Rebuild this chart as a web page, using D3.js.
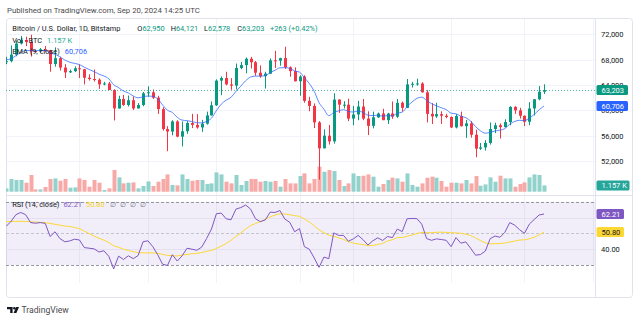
<!DOCTYPE html>
<html>
<head>
<meta charset="utf-8">
<script src="https://cdn.jsdelivr.net/npm/d3@7"></script>
<style>
  body { margin: 0; background: #fff; }
  svg { display: block; font-family: Roboto, "Liberation Sans", sans-serif; }
</style>
</head>
<body>
<div id="chart"></div>
<script>
// BTC/USD daily candles (Bitstamp), 2 Jun - 20 Sep 2024, ten days per row
var opens = [
  67750, 67770, 68800, 70560, 71100, 70790, 69350, 69310, 69650, 69500,
  67320, 68240, 66760, 66000, 66200, 66650, 66500, 65150, 64950, 64850,
  64100, 64250, 63200, 60300, 61800, 60850, 61600, 60300, 60850, 62700,
  62850, 62000, 60200, 57050, 56650, 58250, 55850, 56700, 58000, 57700,
  57300, 57900, 59200, 60800, 64700, 65100, 64100, 63900, 66700, 67150,
  68150, 67600, 65950, 65400, 65800, 67900, 67850, 68250, 66800, 66200,
  64600, 65350, 61500, 60700, 58100, 54000, 56000, 55100, 61700, 60880,
  60900, 58700, 59350, 60600, 58700, 57550, 58900, 59500, 58450, 59500,
  59000, 61200, 60400, 64100, 64200, 64250, 62850, 59450, 59050, 59400,
  59150, 58950, 57300, 59100, 57500, 57950, 56150, 53950, 54150, 54850,
  57050, 57650, 57350, 58150, 60550, 60000, 59150, 58200, 60300, 61750,
  62950
];
var highs = [
  68450, 70250, 71050, 71750, 71650, 71950, 69550, 69850, 70150, 69550,
  69950, 68450, 67300, 66450, 66950, 67250, 66550, 65700, 66450, 65050,
  64500, 64500, 63350, 62300, 62450, 62350, 62200, 61150, 62900, 63800,
  63300, 62300, 60500, 57500, 58450, 58450, 58250, 58300, 59450, 59400,
  58500, 59800, 61400, 64900, 65350, 66100, 65100, 67400, 67650, 68350,
  68450, 67800, 67100, 66100, 68200, 69400, 68300, 70050, 66950, 66800,
  65550, 65550, 62150, 61100, 58300, 57000, 57700, 62700, 61750, 61450,
  61850, 60700, 61500, 61800, 59850, 59800, 59650, 60250, 59600, 61400,
  61800, 61400, 64950, 64500, 65000, 64450, 63200, 61150, 61200, 59850,
  59450, 59050, 59400, 59800, 58500, 58300, 56950, 54850, 55300, 58100,
  58050, 57950, 58600, 60650, 60650, 60400, 59200, 61300, 61800, 63850,
  64121
];
var lows = [
  67300, 67600, 68550, 70400, 70150, 68500, 69200, 69150, 69250, 66100,
  66900, 66300, 65100, 65900, 66050, 65100, 64100, 64700, 64550, 63400,
  63950, 63250, 58400, 60250, 60700, 60600, 60050, 60300, 60650, 62150,
  61800, 59450, 56800, 53550, 56050, 55750, 54300, 56300, 57200, 57100,
  56600, 57750, 59200, 60700, 62400, 63950, 63250, 63300, 66500, 65850,
  66600, 65450, 65150, 63450, 65750, 66700, 67050, 66550, 65300, 64550,
  62300, 61200, 59850, 57200, 49050, 54000, 54600, 54750, 59600, 60300,
  58300, 57650, 58450, 58450, 56100, 57150, 58800, 58450, 57850, 58650,
  58800, 59800, 60350, 63600, 63900, 62800, 58100, 57850, 58800, 57850,
  58750, 57200, 57150, 57450, 55650, 55700, 52600, 53750, 53650, 54600,
  56400, 55550, 57300, 57650, 59450, 58700, 57500, 57650, 59200, 61600,
  62578
];
var closes = [
  67770, 68800, 70560, 71100, 70790, 69350, 69310, 69650, 69500, 67320,
  68240, 66760, 66000, 66200, 66650, 66500, 65150, 64950, 64850, 64100,
  64250, 63200, 60300, 61800, 60850, 61600, 60300, 60850, 62700, 62850,
  62000, 60200, 57050, 56650, 58250, 55850, 56700, 58000, 57700, 57300,
  57900, 59200, 60800, 64700, 65100, 64100, 63900, 66700, 67150, 68150,
  67600, 65950, 65400, 65800, 67900, 67850, 68250, 66800, 66200, 64600,
  65350, 61500, 60700, 58100, 54000, 56000, 55100, 61700, 60900, 60900,
  58700, 59350, 60600, 58700, 57550, 58900, 59500, 58450, 59500, 59000,
  61200, 60400, 64100, 64200, 64250, 62850, 59450, 59050, 59400, 59150,
  58950, 57300, 59100, 57500, 57950, 56150, 53950, 54150, 54850, 57050,
  57650, 57350, 58150, 60550, 60000, 59150, 58200, 60300, 61750, 62940,
  63203
];
// volume in BTC
var volumes = [
  610, 2330, 2150, 2150, 1650, 3070, 420, 420, 860, 2330,
  2440, 2020, 2330, 740, 790, 2440, 2150, 920, 2150, 1650,
  310, 610, 3990, 2630, 1530, 1650, 1710, 610, 1050, 1890,
  1050, 1840, 2330, 3180, 1230, 1160, 3180, 2330, 2020, 2150,
  2150, 1410, 1530, 3550, 3180, 1840, 1530, 3070, 1230, 1970,
  2330, 2330, 1840, 1970, 1840, 1970, 920, 2330, 1530, 1530,
  2880, 3360, 1530, 2330, 4600, 3670, 3990, 3800, 2150, 1050,
  1530, 3360, 2880, 2940, 3180, 2760, 920, 1410, 2150, 2570,
  2440, 1840, 3360, 1230, 920, 1530, 2570, 2760, 2570, 1970,
  920, 1650, 1650, 1530, 2150, 1530, 2880, 1100, 1340, 2630,
  1840, 2940, 2440, 2440, 920, 1410, 1710, 2630, 3180, 3070,
  1157
];
var ema9 = [
  67990, 68152, 68634, 69127, 69460, 69438, 69412, 69460, 69468, 69038,
  68878, 68454, 67963, 67610, 67418, 67234, 66817, 66444, 66125, 65720,
  65426, 64981, 64045, 63596, 63047, 62758, 62266, 61983, 62126, 62271,
  62217, 61814, 60861, 60019, 59665, 58902, 58462, 58370, 58236, 58049,
  58019, 58255, 58764, 59951, 60981, 61605, 62064, 62991, 63823, 64688,
  65270, 65406, 65405, 65484, 65967, 66344, 66725, 66740, 66632, 66226,
  66051, 65141, 64253, 63022, 61218, 60174, 59159, 59667, 59914, 60111,
  59829, 59733, 59906, 59665, 59242, 59174, 59239, 59081, 59165, 59132,
  59546, 59717, 60594, 61315, 61892, 62084, 61557, 61056, 60725, 60410,
  60118, 59554, 59463, 59070, 58846, 58307, 57436, 56779, 56393, 56524,
  56749, 56869, 57125, 57810, 58248, 58428, 58382, 58766, 59363, 60080,
  60706
];
var rsi14 = [
  54.4, 57.5, 61.8, 63.2, 61.8, 56.8, 56.4, 56.8, 56.3, 48.0,
  51.0, 46.7, 44.7, 45.2, 46.3, 45.8, 41.0, 40.6, 40.2, 38.2,
  39.0, 35.5, 27.5, 35.6, 33.5, 35.8, 34.0, 36.0, 44.7, 45.3,
  41.6, 36.5, 30.5, 29.7, 36.5, 32.5, 35.8, 40.6, 40.0, 39.3,
  41.3, 46.7, 52.7, 62.4, 62.8, 59.2, 58.6, 65.3, 66.3, 67.9,
  65.3, 59.2, 57.4, 58.5, 63.4, 63.2, 64.4, 59.0, 57.0, 51.0,
  53.0, 41.6, 40.0, 34.5, 28.5, 35.0, 34.0, 50.3, 48.7, 48.7,
  45.0, 46.5, 48.7, 46.0, 42.6, 45.3, 47.2, 45.5, 48.0, 47.3,
  52.7, 51.1, 59.2, 59.4, 59.3, 55.8, 46.7, 45.6, 46.5, 46.1,
  45.6, 41.6, 47.3, 43.8, 44.6, 40.6, 36.2, 36.6, 38.8, 46.7,
  48.3, 47.5, 50.7, 56.8, 55.2, 52.3, 50.0, 55.8, 58.8, 61.6,
  62.21
];
var rsiMa = [
  57.4, 57.5, 57.6, 57.6, 57.5, 57.3, 57.1, 56.9, 56.7, 56.3,
  55.7, 55.2, 54.6, 54.33, 53.75, 52.91, 51.43, 49.81, 48.27, 46.94,
  45.70, 44.18, 42.12, 41.24, 39.99, 39.21, 38.44, 37.79, 37.67, 37.64,
  37.68, 37.39, 36.69, 36.09, 35.91, 35.69, 36.29, 36.64, 37.11, 37.36,
  37.88, 38.64, 39.21, 40.44, 41.95, 43.57, 45.58, 48.12, 50.25, 52.78,
  54.89, 56.21, 57.46, 58.83, 60.41, 61.59, 62.42, 62.18, 61.76, 61.18,
  60.78, 59.09, 57.21, 54.82, 52.19, 50.46, 48.79, 48.21, 47.16, 46.12,
  44.74, 43.84, 43.25, 42.89, 42.15, 42.41, 42.93, 43.71, 45.11, 45.99,
  47.32, 47.38, 48.13, 48.89, 49.91, 50.58, 50.44, 50.41, 50.69, 50.74,
  50.63, 50.35, 50.30, 50.05, 49.47, 48.72, 47.08, 45.45, 43.99, 43.34,
  43.45, 43.59, 43.89, 44.5, 45.1, 45.8, 45.9, 46.6, 47.5, 49.0,
  50.80
];

var priceTicks = [52000, 56000, 60000, 64000, 68000, 72000];
var timeTicks = ["2024-06-17", "2024-07-01", "2024-07-15", "2024-08-01",
                 "2024-08-12", "2024-09-01", "2024-09-16", "2024-09-30"];
var timeLabels = ["17", "Jul", "15", "Aug", "12", "Sep", "16", "30"];
var rsiTicks = [40];

var parseDay = d3.utcParse("%Y-%m-%d");
var days = d3.utcDay.range(parseDay("2024-06-02"), parseDay("2024-09-21"));
var tickDays = timeTicks.map(parseDay);

var UP = "#089981", DOWN = "#f23645";
var UP_VOL = "#92d2cc", DOWN_VOL = "#f7a9a7";
var TEXT = "#131722";
var fmt = d3.format(",");
var last = closes.length - 1;

var svg = d3.select("#chart").append("svg")
    .attr("width", 640)
    .attr("height", 321);

var x = d3.scaleUtc()
    .domain([parseDay("2024-06-02"), parseDay("2024-09-30")])
    .range([6.1, 592.9]);
var y = d3.scaleLinear().domain([52000, 72000]).range([161, 34.4]);
var yVol = d3.scaleLinear().domain([0, 5000]).range([191.7, 164.5]);
var yRsi = d3.scaleLinear().domain([30, 70]).range([265, 201.7]);

function px(i) { return Math.round(x(days[i])); }

var defs = svg.append("defs");
defs.append("clipPath").attr("id", "clipPrice")
  .append("rect").attr("x", 6).attr("y", 18).attr("width", 589).attr("height", 177);
defs.append("clipPath").attr("id", "clipRsi")
  .append("rect").attr("x", 6).attr("y", 196).attr("width", 589).attr("height", 87);
defs.append("clipPath").attr("id", "clipTime")
  .append("rect").attr("x", 6).attr("y", 283).attr("width", 589).attr("height", 14);

// header
svg.append("text")
    .attr("x", 7).attr("y", 12.5)
    .attr("font-size", 7.8).attr("fill", "#4a4a4a")
    .text("Published on TradingView.com, Sep 20, 2024 14:25 UTC");

// outer frame
svg.append("rect")
    .attr("x", 6.5).attr("y", 18.5).attr("width", 626).attr("height", 279)
    .attr("rx", 3).attr("fill", "#fff").attr("stroke", "#e0e3eb");

// grid
var grid = svg.append("g").attr("stroke", "#f0f3fa").attr("stroke-width", 1);
grid.selectAll(".gx").data(tickDays).enter().append("line")
    .attr("x1", function(d) { return Math.round(x(d)) + 0.5; })
    .attr("x2", function(d) { return Math.round(x(d)) + 0.5; })
    .attr("y1", 19).attr("y2", 283);
grid.selectAll(".gy").data(priceTicks).enter().append("line")
    .attr("x1", 7).attr("x2", 595)
    .attr("y1", function(d) { return Math.round(y(d)) + 0.5; })
    .attr("y2", function(d) { return Math.round(y(d)) + 0.5; });

// RSI pane background + bands
var rsiG = svg.append("g").attr("clip-path", "url(#clipRsi)");
rsiG.append("rect")
    .attr("x", 6).attr("width", 589)
    .attr("y", yRsi(70)).attr("height", yRsi(30) - yRsi(70))
    .attr("fill", "rgba(126,87,194,0.1)");
rsiG.selectAll(".rg").data([40, 60]).enter().append("line")
    .attr("x1", 6).attr("x2", 595)
    .attr("y1", function(d) { return Math.round(yRsi(d)) + 0.5; })
    .attr("y2", function(d) { return Math.round(yRsi(d)) + 0.5; })
    .attr("stroke", "#e4e0ef");
rsiG.selectAll(".band").data([70, 50, 30]).enter().append("line")
    .attr("x1", 6).attr("x2", 595)
    .attr("y1", function(d) { return Math.round(yRsi(d)) + 0.5; })
    .attr("y2", function(d) { return Math.round(yRsi(d)) + 0.5; })
    .attr("stroke", function(d) { return d === 50 ? "#c3c5cc" : "#9598a1"; })
    .attr("stroke-dasharray", "3,2");

rsiG.append("path")
    .datum(rsiMa)
    .attr("fill", "none").attr("stroke", "#fdd835").attr("stroke-width", 1)
    .attr("d", d3.line().x(function(d, i) { return x(days[i]); }).y(function(d) { return yRsi(d); }));
rsiG.append("path")
    .datum(rsi14)
    .attr("fill", "none").attr("stroke", "#7e57c2").attr("stroke-width", 1)
    .attr("d", d3.line().x(function(d, i) { return x(days[i]); }).y(function(d) { return yRsi(d); }));

// price pane
var priceG = svg.append("g").attr("clip-path", "url(#clipPrice)");
var idx = d3.range(closes.length);

priceG.append("g").selectAll("rect").data(idx).enter().append("rect")
    .attr("x", function(i) { return px(i) - 1.5; })
    .attr("width", 4)
    .attr("y", function(i) { return yVol(volumes[i]); })
    .attr("height", function(i) { return yVol(0) - yVol(volumes[i]); })
    .attr("fill", function(i) { return closes[i] >= opens[i] ? UP_VOL : DOWN_VOL; });

var candles = priceG.append("g").selectAll("g").data(idx).enter().append("g")
    .attr("fill", function(i) { return closes[i] >= opens[i] ? UP : DOWN; })
    .attr("stroke", function(i) { return closes[i] >= opens[i] ? UP : DOWN; });
candles.append("line")
    .attr("x1", function(i) { return px(i) + 0.5; })
    .attr("x2", function(i) { return px(i) + 0.5; })
    .attr("y1", function(i) { return y(highs[i]); })
    .attr("y2", function(i) { return y(lows[i]); })
    .attr("stroke-width", 1);
candles.append("rect")
    .attr("stroke", "none")
    .attr("x", function(i) { return px(i) - 1; })
    .attr("width", 3)
    .attr("y", function(i) { return y(Math.max(opens[i], closes[i])); })
    .attr("height", function(i) {
      return Math.max(1, Math.abs(y(opens[i]) - y(closes[i])));
    });

priceG.append("path")
    .datum(ema9)
    .attr("fill", "none").attr("stroke", "#2962ff").attr("stroke-opacity", 0.75)
    .attr("stroke-width", 1)
    .attr("d", d3.line().curve(d3.curveMonotoneX)
      .x(function(d, i) { return x(days[i]); }).y(function(d) { return y(d); }));

// last price line
var lastY = Math.round(y(closes[last])) + 0.5;
priceG.append("line")
    .attr("x1", 6).attr("x2", 595).attr("y1", lastY).attr("y2", lastY)
    .attr("stroke", UP).attr("stroke-opacity", 0.7).attr("stroke-dasharray", "1,2");

// separators
svg.append("line").attr("x1", 7).attr("x2", 632).attr("y1", 195.5).attr("y2", 195.5)
    .attr("stroke", "#e0e3eb");
svg.append("line").attr("x1", 595.5).attr("x2", 595.5).attr("y1", 19).attr("y2", 297)
    .attr("stroke", "#e0e3eb");

// legends: pieces flow left to right, gap = leading space before each piece
function legendRow(x0, yPos, parts) {
  var t = svg.append("text").attr("x", x0).attr("y", yPos).attr("font-size", 7.4);
  parts.forEach(function(p, i) {
    t.append("tspan")
        .attr("dx", i === 0 ? 0 : p[2])
        .attr("fill", p[1] || TEXT)
        .text(p[0]);
  });
}
var chg = closes[last] - closes[last - 1];
legendRow(12.3, 30.5, [
  ["Bitcoin / U.S. Dollar, 1D, Bitstamp"]
]);
var ohlc = [["O", opens[last], 137.3], ["H", highs[last], 170.7],
            ["L", lows[last], 204], ["C", closes[last], 237.3]];
ohlc.forEach(function(o) {
  var t = svg.append("text").attr("x", o[2]).attr("y", 30.5).attr("font-size", 7.4);
  t.append("tspan").attr("fill", TEXT).text(o[0]);
  t.append("tspan").attr("fill", UP).text(fmt(o[1]));
});
svg.append("text").attr("x", 270).attr("y", 30.5).attr("font-size", 7.4).attr("fill", UP)
    .text("+" + fmt(chg) + " (+" + (chg / closes[last - 1] * 100).toFixed(2) + "%)");

legendRow(12.3, 42.5, [
  ["Vol \u00b7 BTC"],
  [(volumes[last] / 1000).toFixed(3) + " K", "#22ab94", 5]
]);
legendRow(12.3, 54, [
  ["EMA (9, close)"],
  [fmt(ema9[last]), "#2962ff", 5]
]);
legendRow(12.3, 206.5, [
  ["RSI (14, close)"],
  [rsi14[last].toFixed(2), "#7e57c2", 4],
  [rsiMa[last].toFixed(2), "#f4d422", 4],
  ["\u2205", "#787b86", 5], ["\u2205", "#787b86", 4],
  ["\u2205", "#787b86", 4], ["\u2205", "#787b86", 4]
]);

// price axis
svg.append("g")
    .attr("transform", "translate(595,0)")
    .call(d3.axisRight(y).tickValues(priceTicks).tickFormat(fmt).tickSize(0).tickPadding(6))
    .call(function(g) { g.select(".domain").remove(); })
    .attr("font-family", null).attr("font-size", 7.5)
    .selectAll("text").attr("fill", TEXT);

// RSI axis
svg.append("g")
    .attr("transform", "translate(595,0)")
    .call(d3.axisRight(yRsi).tickValues(rsiTicks).tickFormat(d3.format(".2f")).tickSize(0).tickPadding(6))
    .call(function(g) { g.select(".domain").remove(); })
    .attr("font-family", null).attr("font-size", 7.5)
    .selectAll("text").attr("fill", TEXT);

// time axis
var timeAxis = svg.append("g")
    .attr("transform", "translate(0,283)")
    .attr("clip-path", "url(#clipTime)")
    .call(d3.axisBottom(x).tickValues(tickDays)
      .tickFormat(function(d, i) { return timeLabels[i]; })
      .tickSize(0).tickPadding(3))
    .call(function(g) { g.select(".domain").remove(); })
    .attr("font-family", null).attr("font-size", 7.5);
timeAxis.selectAll("text")
    .attr("fill", TEXT)
    .attr("font-weight", function(d, i) { return isNaN(+timeLabels[i]) ? "bold" : null; });

// value tags on the scales
function tag(yc, label, fill, color, w) {
  var g = svg.append("g");
  g.append("rect")
      .attr("x", 596.5).attr("y", yc - 5).attr("width", w).attr("height", 10)
      .attr("rx", 1.5).attr("fill", fill);
  g.append("text")
      .attr("x", 601.5).attr("y", yc + 2.7)
      .attr("font-size", 7.5).attr("fill", color)
      .text(label);
}
tag(y(closes[last]), fmt(closes[last]), UP, "#fff", 31.5);
tag(y(ema9[last]), fmt(ema9[last]), "#2962ff", "#fff", 31.5);
tag(185.5, (volumes[last] / 1000).toFixed(3) + " K", "#26a69a", "#fff", 33);
tag(yRsi(rsi14[last]), rsi14[last].toFixed(2), "#7e57c2", "#fff", 27.5);
tag(yRsi(rsiMa[last]), rsiMa[last].toFixed(2), "#fdd835", TEXT, 27.5);

// footer logo
var logo = svg.append("g").attr("fill", TEXT);
logo.append("path").attr("d", "M7,307 H12.6 V313 H10.2 V309.2 H7 Z");
logo.append("circle").attr("cx", 14.4).attr("cy", 308.3).attr("r", 1.3);
logo.append("path").attr("d", "M16.2,307 H19 L16.4,313 H13.6 Z");
svg.append("text")
    .attr("x", 21.5).attr("y", 313)
    .attr("font-size", 8.6).attr("fill", "#4a4a4a")
    .text("TradingView");
</script>
</body>
</html>
